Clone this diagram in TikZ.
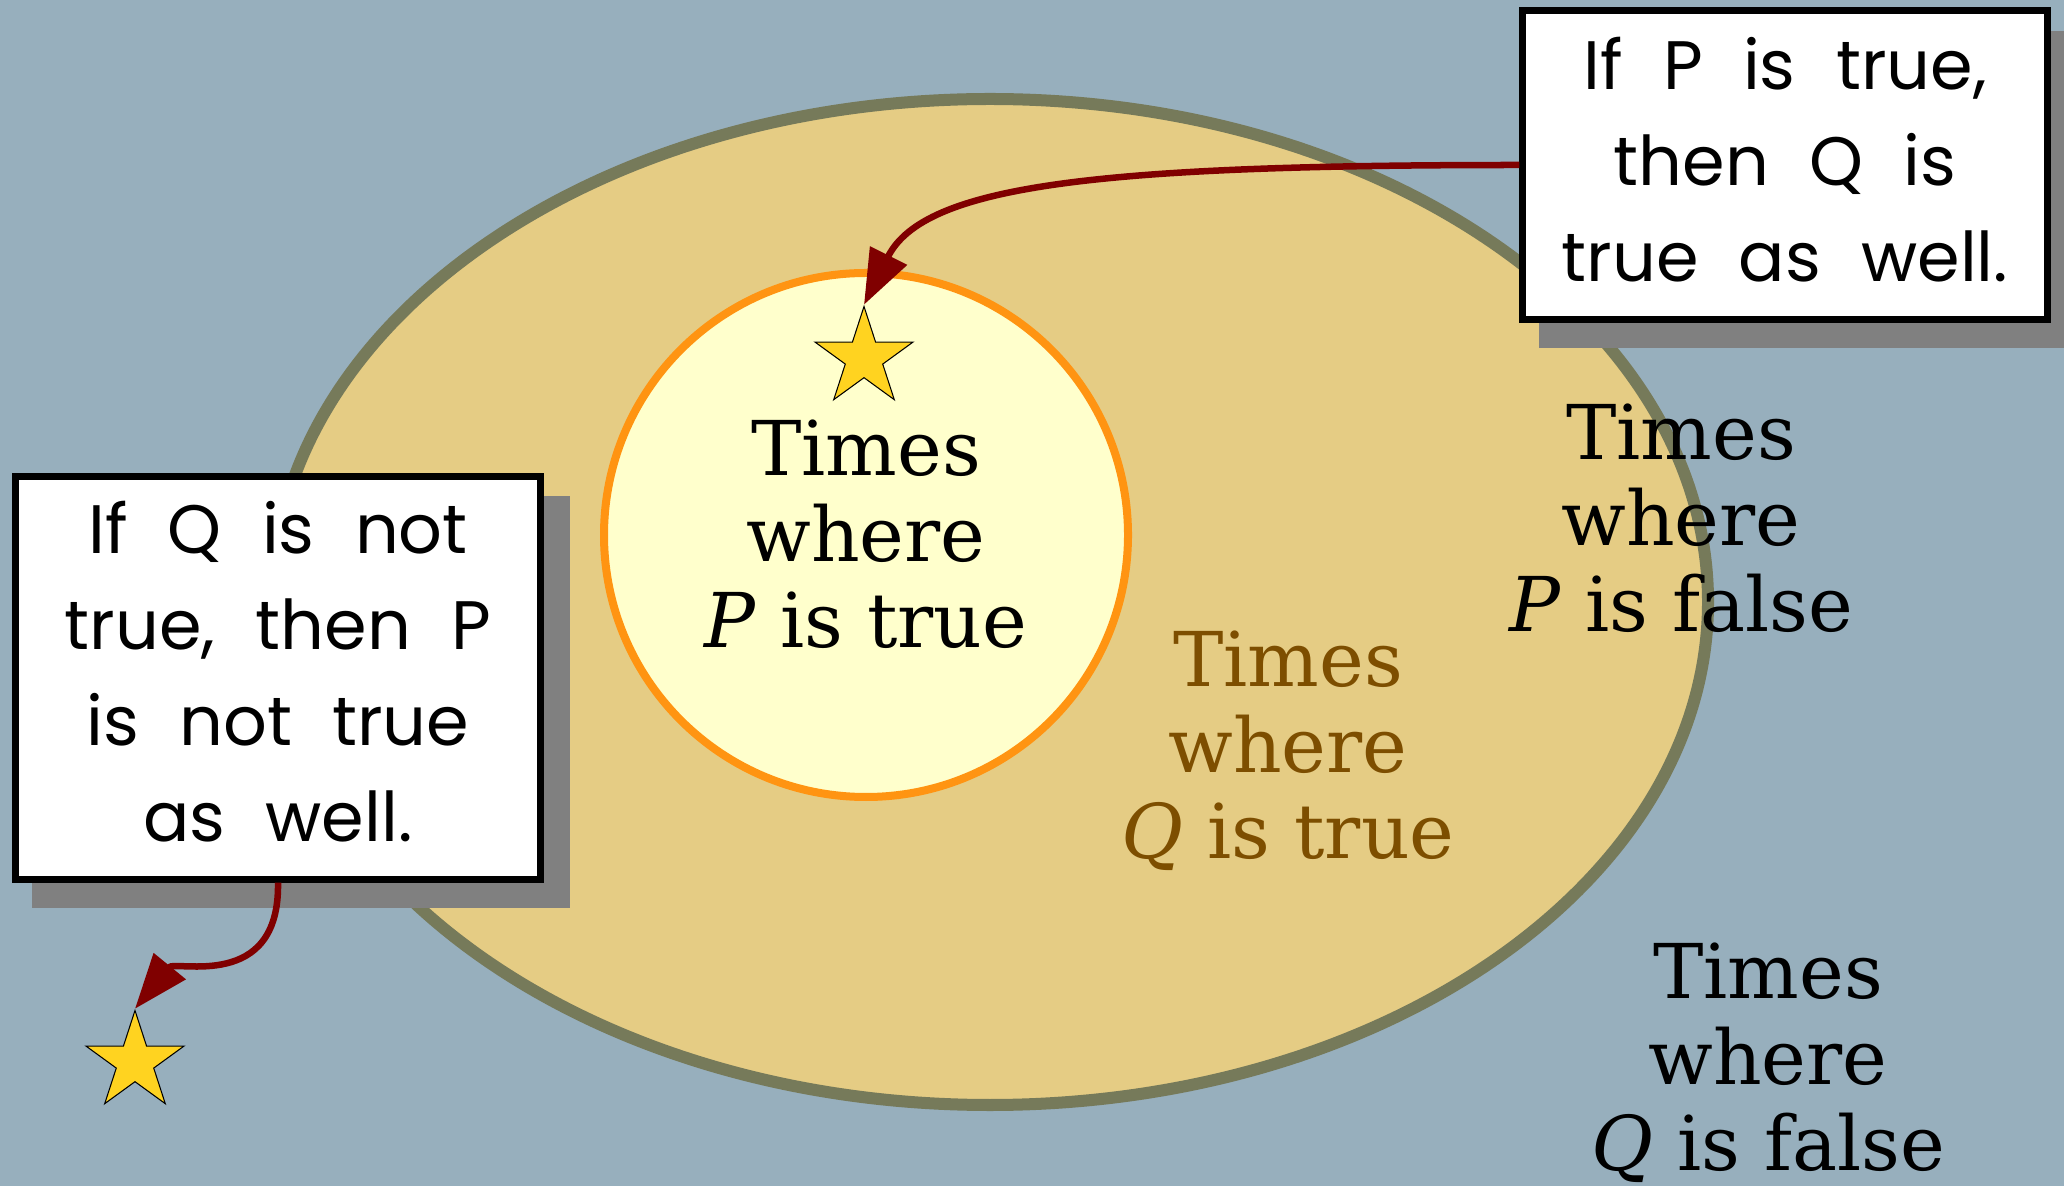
\documentclass[tikz,border=0pt]{standalone}
\usepackage{fontspec}
\setmainfont{DejaVu Serif}
\newfontfamily\handfont{Poppins}[WordSpace={2.2}]
\usepackage{xcolor}
\usepackage{tikz}
\usetikzlibrary{arrows.meta,shapes.geometric,shadows}

\definecolor{bgblue}{HTML}{97AFBD}
\definecolor{qfill}{HTML}{E5CC84}
\definecolor{qline}{HTML}{767A5A}
\definecolor{pfill}{HTML}{FFFFCC}
\definecolor{pline}{HTML}{FF9412}
\definecolor{qbrown}{HTML}{7D4E00}
\definecolor{starfill}{HTML}{FFD320}
\definecolor{arrowred}{HTML}{800000}
\definecolor{shadowgray}{HTML}{808080}

% extra depth on the last line, lifts the text a little
\newcommand{\liftstrut}[1]{\rule[-#1]{0pt}{0pt}}

\begin{document}
\begin{tikzpicture}[
  x=0.01cm, y=-0.01cm,
  region/.style={align=center, font={\fontsize{21.5}{24.4}\selectfont}},
  callout/.style={draw, line width=0.07cm, fill=white, align=center,
                  minimum width=5.24cm,
                  font={\handfont\fontsize{19.5}{27.3}\selectfont},
                  drop shadow={shadow xshift=0.225cm, shadow yshift=-0.235cm,
                               shadow scale=1.025, fill=shadowgray, opacity=1}},
  goldstar/.style={star, star points=5, star point ratio=2.618,
                   minimum size=1.03cm, inner sep=0pt, draw=black,
                   line width=0.3pt, fill=starfill},
  link/.style={-{Triangle[length=0.55cm, width=0.4cm]}, line width=0.065cm,
               draw=arrowred}
]
  \useasboundingbox (0,0) rectangle (2064,1186);
  \clip (0,0) rectangle (2064,1186);
  \fill[bgblue] (0,0) rectangle (2064,1186);

  % the two sets
  \draw[line width=0.12cm, draw=qline, fill=qfill]
    (990,602) ellipse [x radius=718, y radius=503];
  \draw[line width=0.08cm, draw=pline, fill=pfill]
    (866,535) circle [radius=262];

  \node[region] (ptrue) at (866,534) {Times\\where\\\textit{P} is true};
  \node[region] (pfalse) at (1681,518) {Times\\where\\\textit{P} is false};
  \node[region, text=qbrown] (qtrue) at (1288,751)
    {Times\\where\\\textit{Q} is true};
  \node[region] (qfalse) at (1768,1063) {Times\\where\\\textit{Q} is false};

  \node[goldstar] (stara) at (864,358) {};
  \node[goldstar] (starb) at (135,1062) {};

  \node[callout, minimum height=3.09cm] (ifp) at (1785,165)
    {If P is true,\\then Q is\\true as well.\liftstrut{0.12cm}};
  \node[callout, minimum height=4.02cm] (ifq) at (278,678)
    {If Q is not\\true, then P\\is not true\\as well.\liftstrut{0.14cm}};

  \draw[link] (ifp.west) .. controls +(-420,0) and +(60,-120) .. (stara.north);
  \draw[link] (ifq.south) .. controls +(2,110) and +(40,-49) .. (starb.north);
\end{tikzpicture}
\end{document}
